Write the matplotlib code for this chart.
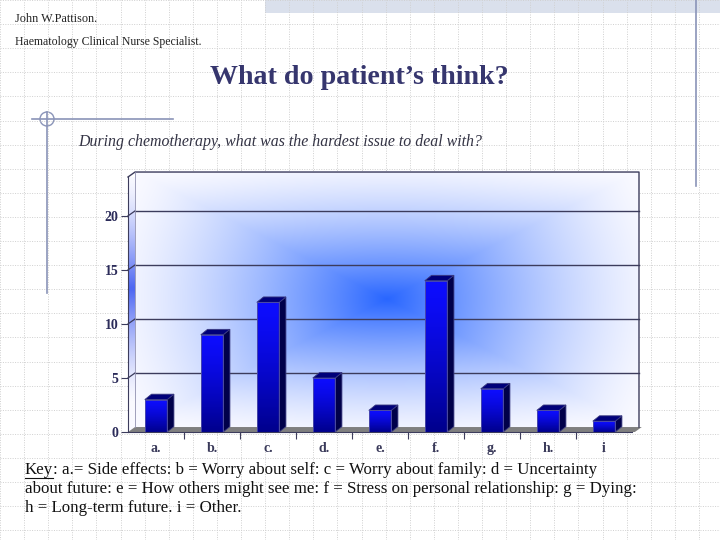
import numpy as np
import matplotlib
matplotlib.use("Agg")
from matplotlib import pyplot as plt
from matplotlib.patches import Polygon, Circle

# data
categories = ["a.", "b.", "c.", "d.", "e.", "f.", "g.", "h.", "i"]
values = [3, 9, 12, 5, 2, 14, 4, 2, 1]
yticks = [0, 5, 10, 15, 20]

serif = ["Liberation Serif", "DejaVu Serif"]
navy = "#2c2c5a"

fig = plt.figure(figsize=(7.2, 5.4), dpi=100)
fig.patch.set_facecolor("white")

# slide background in pixel coords
bg = fig.add_axes([0, 0, 1, 1])
bg.set_xlim(0, 720)
bg.set_ylim(540, 0)
bg.axis("off")
for g in np.arange(0, 721, 24.1):
    bg.axvline(g, color="#d0d0d0", lw=0.7, ls=(0, (1, 1.5)))
for g in np.arange(0, 541, 24.1):
    bg.axhline(g, color="#d0d0d0", lw=0.7, ls=(0, (1, 1.5)))
bg.fill_between([265, 720], 0, 13, color="#dae0ec", lw=0)
bg.plot([696, 696], [0, 186], color="#8a94b8", lw=1.2)
bg.plot([32, 173], [119, 119], color="#8a94b8", lw=1.2)
bg.plot([47, 47], [112, 293], color="#8a94b8", lw=1.2)
bg.add_patch(Circle((47, 119), 7, fill=False, ec="#8a94b8", lw=1.0))

fig.text(15, 540 - 19, "John W.Pattison.", family=serif, fontsize=8.8,
         color="#222222", va="center", transform=None)
fig.text(15, 540 - 42, "Haematology Clinical Nurse Specialist.", family=serif,
         fontsize=8.5, color="#222222", va="center", transform=None)
fig.text(359, 540 - 78, "What do patient\u2019s think?", family=serif, fontsize=20.2,
         weight="bold", color="#36366e", ha="center", va="center", transform=None)
fig.text(78, 540 - 142, "During chemotherapy, what was the hardest issue to deal with?",
         family=serif, style="italic", fontsize=11.4, color="#333344",
         va="center", transform=None)

key_lines = [
    ": a.= Side effects: b = Worry about self: c = Worry about family: d = Uncertainty",
    "about future: e = How others might see me: f = Stress on personal relationship: g = Dying:",
    "h = Long-term future. i = Other.",
]
kfs = 12.2
kt = fig.text(25, 540 - 470, "Key", family=serif, fontsize=kfs, color="#111111",
              va="center", transform=None)
fig.canvas.draw()
kb = kt.get_window_extent()
bg.plot([kb.x0, kb.x1], [478, 478], color="#111111", lw=0.8)
fig.text(kb.x1, 540 - 470, key_lines[0], family=serif, fontsize=kfs, color="#111111",
         va="center", transform=None)
fig.text(25, 540 - 489, key_lines[1], family=serif, fontsize=kfs, color="#111111",
         va="center", transform=None)
fig.text(25, 540 - 508, key_lines[2], family=serif, fontsize=kfs, color="#111111",
         va="center", transform=None)

# chart: front frame 128..632 px, zero at y=432
ytop = 23.6
ax = fig.add_axes([128 / 720, (540 - 432) / 540, 504 / 720, (432 - 177) / 540])
ax.set_zorder(2)
ax.patch.set_alpha(0)
n = len(values)
x = np.arange(n)
xl, xr = -0.5, n - 0.5
dx, dy = 0.125, 0.46   # depth offset

# back wall gradient
H, W = 200, 300
u = np.linspace(-1, 1, W)[None, :]
v = np.linspace(-1, 1, H)[:, None]
d = 0.6 * np.maximum(np.abs(u), np.abs(v)) + 0.4 * np.sqrt(u ** 2 + v ** 2) / np.sqrt(2)
t = np.clip(1 - d, 0, 1) ** 1.4
white = np.array([0.98, 0.98, 1.0])
blue = np.array([0.16, 0.40, 1.0])
img = white * (1 - t[..., None]) + blue * t[..., None]
ax.imshow(img, extent=[xl + dx, xr + dx, dy, ytop + dy], aspect="auto",
          zorder=0, clip_on=False, interpolation="bilinear")

# left side wall
sv = np.linspace(0, 1, 100)[:, None]
st = np.clip(1 - np.abs(sv - 0.45) / 0.45, 0, 1) ** 1.5
simg = white * (1 - st[..., None]) + np.array([0.3, 0.4, 0.95]) * st[..., None]
simg = np.repeat(simg, 2, axis=1)
side_poly = Polygon([(xl, 0), (xl + dx, dy), (xl + dx, ytop + dy), (xl, ytop)],
                    closed=True, fc="none", ec="none", transform=ax.transData)
ax.add_patch(side_poly)
sim = ax.imshow(simg, extent=[xl, xl + dx, 0, ytop + dy], aspect="auto",
                zorder=0.5, clip_on=True, interpolation="bilinear")
sim.set_clip_path(side_poly)

# floor
ax.add_patch(Polygon([(xl, 0), (xr + 0.05, 0), (xr + dx + 0.05, dy), (xl + dx, dy)],
                     closed=True, fc="#7f7f7f", ec="none", zorder=1, clip_on=False))

# grid lines on back wall + left wall diagonals
for yv in yticks[1:]:
    ax.plot([xl + dx, xr + dx], [yv + dy, yv + dy], color="#3c3c5c", lw=1.0,
            zorder=1, clip_on=False)
    ax.plot([xl, xl + dx], [yv, yv + dy], color="#3c3c5c", lw=0.9,
            zorder=1, clip_on=False)
ax.plot([xl, xl + dx, xr + dx, xr + dx], [ytop, ytop + dy, ytop + dy, dy],
        color="#3c3c5c", lw=1.0, zorder=1, clip_on=False)
ax.plot([xl + dx, xl + dx], [dy, ytop + dy], color="#9090b0", lw=0.6,
        zorder=1, clip_on=False)

# bars
bw = 0.40
bdx, bdy = 0.12, 0.5
bars = ax.bar(x, values, width=bw, color="#0000e0", edgecolor="#5050a8",
              lw=0.6, zorder=3)
grad = np.linspace(0, 1, 100)[:, None]
top_c = np.array([0.05, 0.05, 1.0])
bot_c = np.array([0.0, 0.0, 0.55])
gimg = top_c * (1 - grad[..., None] ** 1.3) + bot_c * grad[..., None] ** 1.3
gimg = np.repeat(gimg, 2, axis=1)
for b, h in zip(bars, values):
    x0 = b.get_x()
    x1 = x0 + b.get_width()
    im = ax.imshow(gimg, extent=[x0, x1, 0, h], aspect="auto", zorder=3.1,
                   interpolation="bilinear")
    im.set_clip_path(b)
    ax.add_patch(Polygon([(x1, 0), (x1 + bdx, bdy), (x1 + bdx, h + bdy), (x1, h)],
                         closed=True, fc="#00004a", ec="#3a3a80", lw=0.6,
                         zorder=3.2, clip_on=False))
    ax.add_patch(Polygon([(x0, h), (x1, h), (x1 + bdx, h + bdy), (x0 + bdx, h + bdy)],
                         closed=True, fc="#00007a", ec="#3a3a80", lw=0.6,
                         zorder=3.2, clip_on=False))
    ax.plot([x0, x1, x1, x0, x0], [0, 0, h, h, 0], color="#5050a8", lw=0.6,
            zorder=3.3)

ax.set_xlim(xl, xr)
ax.set_ylim(0, ytop)
for s in ["top", "right"]:
    ax.spines[s].set_visible(False)
ax.spines["left"].set_color("#3c3c5c")
ax.spines["bottom"].set_color("#3c3c5c")
ax.spines["left"].set_zorder(4)
ax.spines["bottom"].set_zorder(4)
ax.set_yticks(yticks)
ax.set_yticklabels([str(v) for v in yticks], family=serif, weight="bold",
                   fontsize=10, color=navy)
ax.tick_params(axis="y", length=5, width=0.8, color="#3c3c5c", pad=2)
ax.set_xticks(x)
ax.set_xticklabels(categories, family=serif, weight="bold", fontsize=10,
                   color="#3a3a5a")
ax.tick_params(axis="x", length=0, pad=7)
ax.set_xticks(np.arange(0.5, n - 0.5, 1), minor=True)
ax.tick_params(axis="x", which="minor", length=5, width=0.8, color="#3c3c5c")

fig.savefig("out.png", dpi=100)
